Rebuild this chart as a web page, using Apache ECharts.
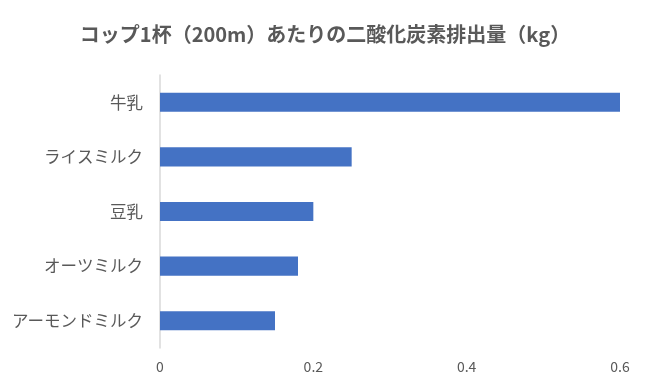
<!DOCTYPE html>
<html>
<head>
<meta charset="utf-8">
<script src="https://cdn.jsdelivr.net/npm/echarts@6/dist/echarts.min.js"></script>
<style>html,body{margin:0;padding:0;background:#fff}#c{width:650px;height:390px}</style>
</head>
<body>
<div id="c"></div>
<script>
const titleText = 'コップ1杯（200m）あたりの二酸化炭素排出量（kg）';
const categories = ['牛乳', 'ライスミルク', '豆乳', 'オーツミルク', 'アーモンドミルク'];
const values = [0.6, 0.25, 0.2, 0.18, 0.15];
const xTicks = [0, 0.2, 0.4, 0.6];

const font = '"Noto Sans CJK JP", "Noto Sans", sans-serif';
const chart = echarts.init(document.getElementById('c'));
chart.setOption({
  animation: false,
  backgroundColor: '#ffffff',
  title: {
    text: titleText,
    left: 'center',
    top: 19,
    textStyle: { fontFamily: font, fontSize: 20, fontWeight: 'bold', color: '#595959' }
  },
  grid: { left: 160, right: 30, top: 75, bottom: 42, containLabel: false },
  xAxis: {
    type: 'value',
    min: xTicks[0],
    max: xTicks[xTicks.length - 1],
    interval: 0.2,
    axisLine: { show: false },
    axisTick: { show: false },
    splitLine: { show: false },
    axisLabel: {
      fontFamily: font, fontSize: 14, color: '#595959', margin: 12,
      formatter: v => String(Math.round(v * 10) / 10)
    }
  },
  yAxis: {
    type: 'category',
    data: categories,
    inverse: true,
    axisLine: { show: true, lineStyle: { color: '#d9d9d9', width: 1.5 } },
    axisTick: { show: false },
    axisLabel: { fontFamily: font, fontSize: 16.5, color: '#595959', margin: 17 }
  },
  series: [{
    type: 'bar',
    data: values,
    barWidth: '35%',
    itemStyle: { color: '#4472C4' }
  }]
});
</script>
</body>
</html>
